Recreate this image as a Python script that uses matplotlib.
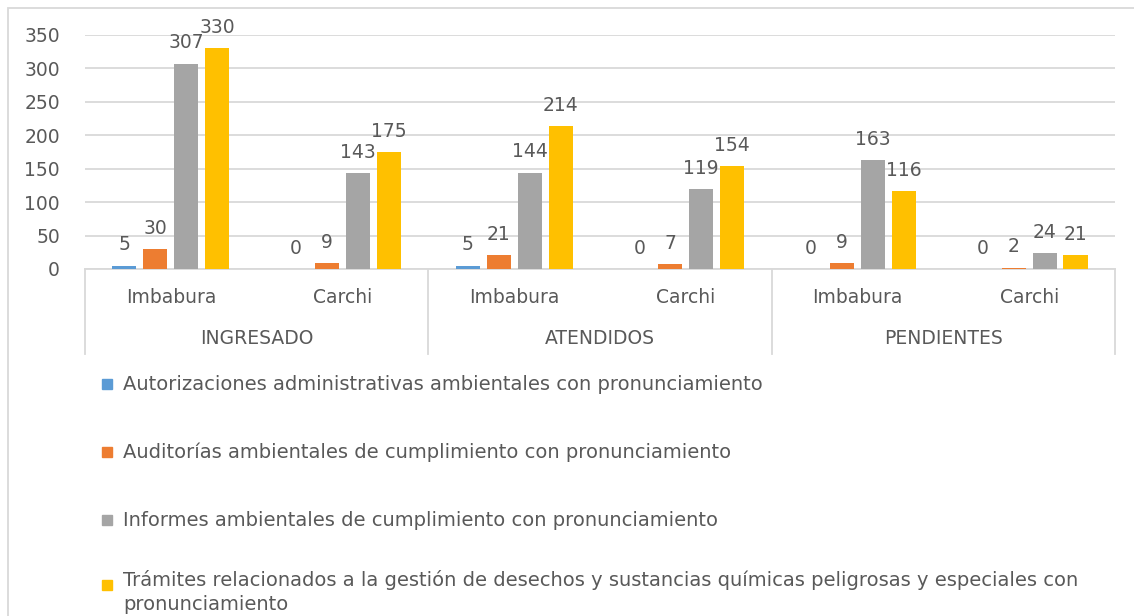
import matplotlib
matplotlib.use("Agg")
import matplotlib.pyplot as plt
from matplotlib.patches import Rectangle
from matplotlib.transforms import blended_transform_factory
import numpy as np

plt.rcParams["font.family"] = ["DejaVu Sans"]

# Data
groups = ["INGRESADO", "ATENDIDOS", "PENDIENTES"]
provinces = ["Imbabura", "Carchi"]
series_names = [
    "Autorizaciones administrativas ambientales con pronunciamiento",
    "Auditorías ambientales de cumplimiento con pronunciamiento",
    "Informes ambientales de cumplimiento con pronunciamiento",
    "Trámites relacionados a la gestión de desechos y sustancias químicas peligrosas y especiales con\npronunciamiento",
]
autorizaciones = [5, 0, 5, 0, 0, 0]
auditorias = [30, 9, 21, 7, 9, 2]
informes = [307, 143, 144, 119, 163, 24]
tramites = [330, 175, 214, 154, 116, 21]

colors = ["#5B9BD5", "#ED7D31", "#A5A5A5", "#FFC000"]
text_col = "#595959"
grid_col = "#D9D9D9"
fs = 13.5
fs_leg = 14

fig = plt.figure(figsize=(11.34, 6.16), dpi=100)
ax = fig.add_axes([85 / 1134, 1 - 269 / 616, 1030 / 1134, 234 / 616])

x = np.arange(len(groups) * len(provinces))
offsets = [-0.27, -0.09, 0.09, 0.27]
width = 0.14
all_series = [autorizaciones, auditorias, informes, tramites]

for vals, off, col in zip(all_series, offsets, colors):
    ax.bar(x + off, vals, width, color=col, zorder=3)
    for xi, v in zip(x, vals):
        ax.annotate(str(v), (xi + off, v), xytext=(0, 11), textcoords="offset points",
                    ha="center", va="baseline", fontsize=fs, color=text_col,
                    annotation_clip=False, zorder=4)

ax.set_xlim(-0.5, 5.5)
ax.set_ylim(0, 350)
ax.set_yticks(range(0, 351, 50))
ax.yaxis.grid(True, color=grid_col, linewidth=1.3, zorder=0)
ax.tick_params(axis="y", length=0, pad=18, labelsize=fs, labelcolor=text_col)
for s in ["top", "right", "left"]:
    ax.spines[s].set_visible(False)
ax.spines["bottom"].set_color(grid_col)
ax.spines["bottom"].set_linewidth(1.3)

# two-level category axis
ax.set_xticks(x)
ax.set_xticklabels(provinces * len(groups))
ax.tick_params(axis="x", length=0, pad=14, labelsize=fs, labelcolor=text_col)
trans = blended_transform_factory(ax.transData, ax.transAxes)
for b in [-0.5, 1.5, 3.5, 5.5]:
    ax.plot([b, b], [0, -85 / 234], transform=trans, color=grid_col,
            linewidth=1.3, clip_on=False)
for i, g in enumerate(groups):
    ax.text(2 * i + 0.5, -70 / 234, g, transform=trans, ha="center", va="center",
            fontsize=fs, color=text_col)

# legend below the chart
for i, (name, col) in enumerate(zip(series_names, colors)):
    yc = 1 - (384 + 68 * i) / 616
    if "\n" in name:
        yc = 1 - 585 / 616
        fig.text(123 / 1134, 1 - 610 / 616, name, ha="left", va="baseline",
                 fontsize=fs_leg, color=text_col, linespacing=1.3)
    else:
        fig.text(123 / 1134, yc, name, ha="left", va="center",
                 fontsize=fs_leg, color=text_col)
    fig.patches.append(Rectangle((102 / 1134, yc - 5 / 616), 10 / 1134, 10 / 616,
                                 transform=fig.transFigure, color=col))

# chart frame
fig.patches.append(Rectangle((8 / 1134, -0.05), 1.2, 1 - 8 / 616 + 0.05,
                             transform=fig.transFigure, fill=False,
                             edgecolor=grid_col, linewidth=1.3))

fig.savefig("out.png", dpi=100)
